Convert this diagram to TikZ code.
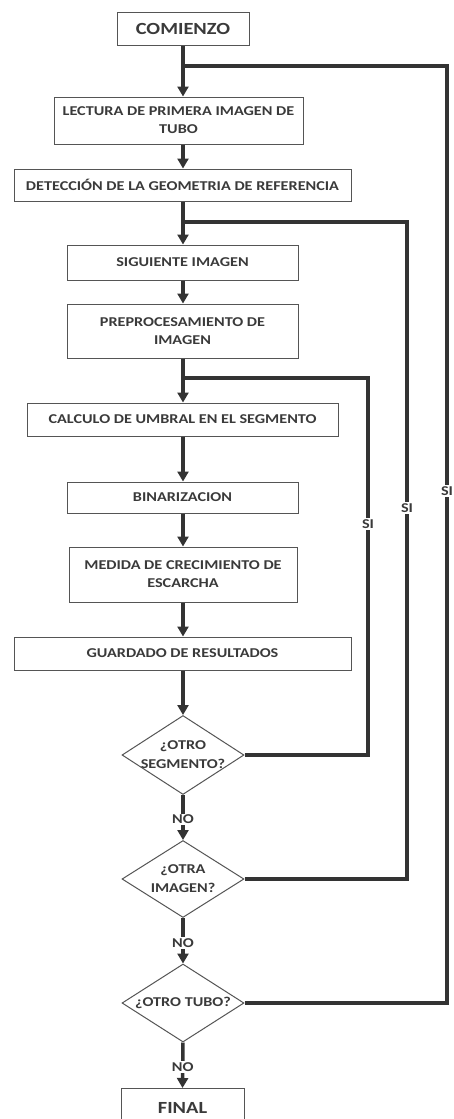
\documentclass[tikz,border=0pt]{standalone}
\usepackage{fontspec}
\setmainfont{Carlito}[FakeStretch=1.2]
\usetikzlibrary{shapes.geometric,arrows.meta}
\definecolor{linec}{HTML}{333333}
\definecolor{boxc}{HTML}{555555}
\definecolor{textc}{HTML}{3A3A3A}
\tikzset{
  procbox/.style={draw=boxc, line width=1pt, rectangle, inner sep=0pt, align=center,
    font=\fontsize{13.5}{18}\selectfont\bfseries, text=textc},
  termbox/.style={procbox, font=\fontsize{17}{20}\selectfont\bfseries},
  decbox/.style={draw=boxc, line width=1pt, diamond, inner sep=0pt},
  declabel/.style={align=center, inner sep=0pt, font=\fontsize{13.5}{19}\selectfont\bfseries, text=textc},
  flow/.style={draw=linec, line width=3.5pt},
  flowarrow/.style={flow, -{Triangle[length=10pt,width=11pt]}},
  tag/.style={fill=white, inner sep=1.5pt, font=\fontsize{13.5}{16}\selectfont\bfseries, text=textc},
}
\begin{document}
\begin{tikzpicture}[x=1pt,y=-1pt]
\useasboundingbox[fill=white] (0,0) rectangle (453,1119);

\node[termbox, minimum width=132pt, minimum height=33pt] (start) at (183,28.5) {COMIENZO};
\node[procbox, minimum width=249pt, minimum height=47pt] (lect) at (178.5,120.5) {LECTURA DE PRIMERA IMAGEN DE\\TUBO};
\node[procbox, minimum width=337pt, minimum height=32pt] (det) at (182.5,185) {DETECCIÓN DE LA GEOMETRIA DE REFERENCIA};
\node[procbox, minimum width=231pt, minimum height=35pt] (sig) at (182.5,262.5) {SIGUIENTE IMAGEN};
\node[procbox, minimum width=231pt, minimum height=54pt] (pre) at (182.5,331) {PREPROCESAMIENTO DE\\IMAGEN};
\node[procbox, minimum width=311pt, minimum height=33pt] (calc) at (182.5,419.5) {CALCULO DE UMBRAL EN EL SEGMENTO};
\node[procbox, minimum width=231pt, minimum height=31pt] (bin) at (182.5,497.5) {BINARIZACION};
\node[procbox, minimum width=228pt, minimum height=55pt] (med) at (183,574.5) {MEDIDA DE CRECIMIENTO DE\\ESCARCHA};
\node[procbox, minimum width=337pt, minimum height=33pt] (guar) at (182.5,653.5) {GUARDADO DE RESULTADOS};

\node[decbox, minimum width=122pt, minimum height=79pt,
  label={[declabel, name=d1t]center:{¿OTRO\\SEGMENTO?}}] (d1) at (183,755) {};
\node[decbox, minimum width=122pt, minimum height=77pt,
  label={[declabel, name=d2t]center:{¿OTRA\\IMAGEN?}}] (d2) at (183,879) {};
\node[decbox, minimum width=122pt, minimum height=78pt,
  label={[declabel, name=d3t]center:{¿OTRO TUBO?}}] (d3) at (183,1003) {};

\node[termbox, minimum width=123pt, minimum height=38pt, anchor=north] (fin) at (182.5,1088) {FINAL};

\coordinate (j1) at (183,66);
\coordinate (j2) at (183,222);
\coordinate (j3) at (183,378);

% main flow
\draw[flow] (start.south) -- (j1);
\draw[flowarrow] (j1) -- (lect.north -| j1);
\draw[flowarrow] (lect.south -| j1) -- (det.north -| j1);
\draw[flow] (det.south -| j1) -- (j2);
\draw[flowarrow] (j2) -- (sig.north -| j1);
\draw[flowarrow] (sig.south -| j1) -- (pre.north -| j1);
\draw[flow] (pre.south -| j1) -- (j3);
\draw[flowarrow] (j3) -- (calc.north -| j1);
\draw[flowarrow] (calc.south -| j1) -- (bin.north -| j1);
\draw[flowarrow] (bin.south -| j1) -- (med.north -| j1);
\draw[flowarrow] (med.south -| j1) -- (guar.north -| j1);
\draw[flowarrow] (guar.south -| j1) -- (d1.north);
\draw[flowarrow] (d1.south) -- (d2.north) node[tag, pos=0.5, yshift=-2pt] (no1) {NO};
\draw[flowarrow] (d2.south) -- (d3.north) node[tag, pos=0.5, yshift=-2pt] (no2) {NO};
\draw[flowarrow] (d3.south) -- (fin.north) node[tag, pos=0.5, yshift=-2pt] (no3) {NO};

% loops
\draw[flow, line join=miter] (d1.east) -- (368,755) -- (368,378) -- (j3);
\draw[flow, line join=miter] (d2.east) -- (407,879) -- (407,222) -- (j2);
\draw[flow, line join=miter] (d3.east) -- (447,1003) -- (447,66) -- (j1);

\node[tag] (si1) at (368,524) {SI};
\node[tag] (si2) at (407,508) {SI};
\node[tag] (si3) at (447,491) {SI};
\end{tikzpicture}
\end{document}
